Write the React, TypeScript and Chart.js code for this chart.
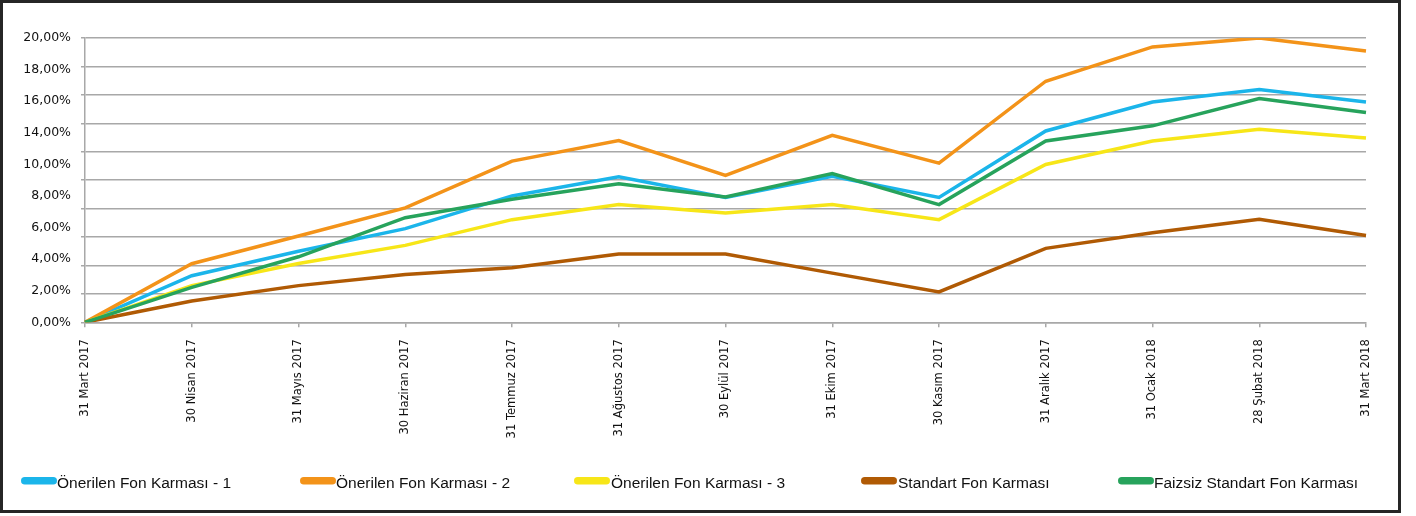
import React, { useEffect, useRef } from "react";
import { Chart, registerables } from "chart.js";

Chart.register(...registerables);

const categories = [
  "31 Mart 2017",
  "30 Nisan 2017",
  "31 Mayıs 2017",
  "30 Haziran 2017",
  "31 Temmuz 2017",
  "31 Ağustos 2017",
  "30 Eylül 2017",
  "31 Ekim 2017",
  "30 Kasım 2017",
  "31 Aralık 2017",
  "31 Ocak 2018",
  "28 Şubat 2018",
  "31 Mart 2018",
];

const seriesNames = [
  "Önerilen Fon Karması - 1",
  "Önerilen Fon Karması - 2",
  "Önerilen Fon Karması - 3",
  "Standart Fon Karması",
  "Faizsiz Standart Fon Karması",
];

const fon1 = [0, 3.28, 5.0, 6.59, 8.89, 10.24, 8.78, 10.28, 8.78, 13.46, 15.5, 16.37, 15.5];
const fon2 = [0, 4.12, 6.07, 8.05, 11.34, 12.78, 10.33, 13.15, 11.2, 16.96, 19.37, 20.0, 19.09];
const fon3 = [0, 2.58, 4.14, 5.41, 7.22, 8.28, 7.69, 8.28, 7.22, 11.1, 12.76, 13.58, 12.97];
const standart = [0, 1.5, 2.58, 3.36, 3.84, 4.8, 4.8, 3.46, 2.14, 5.2, 6.3, 7.24, 6.11];
const faizsiz = [0, 2.46, 4.61, 7.36, 8.66, 9.74, 8.82, 10.47, 8.28, 12.76, 13.82, 15.74, 14.76];

// Tick labels as printed on the original (note: the 12,00% label is absent)
const yTickLabels = [
  "0,00%",
  "2,00%",
  "4,00%",
  "6,00%",
  "8,00%",
  "10,00%",
  "14,00%",
  "16,00%",
  "18,00%",
  "20,00%",
];

const colors = ["#1bb5ea", "#f39319", "#f7e618", "#b05a04", "#27a35c"];

const W = 1395;
const H = 507;
const GRID = "#a8a8a8";
const TICK_FONT = "DejaVu Sans";
const LEGEND_FONT = "Liberation Sans";

const legendSwatchX = [18, 297, 571, 858, 1115];
const legendTextX = [54, 333, 608, 895, 1151];

const lineLegend = {
  id: "lineLegend",
  afterDraw(chart: any) {
    const ctx = chart.ctx as CanvasRenderingContext2D;
    ctx.save();
    chart.data.datasets.forEach((ds: any, i: number) => {
      ctx.fillStyle = ds.borderColor;
      ctx.beginPath();
      (ctx as any).roundRect(legendSwatchX[i], 474, 36, 7.5, 3.75);
      ctx.fill();
      ctx.fillStyle = "#111111";
      ctx.font = `15.5px "${LEGEND_FONT}"`;
      ctx.textBaseline = "alphabetic";
      ctx.textAlign = "left";
      ctx.fillText(ds.label, legendTextX[i], 485);
    });
    ctx.restore();
  },
};

export default function App() {
  const ref = useRef<HTMLCanvasElement | null>(null);

  useEffect(() => {
    if (!ref.current) return;
    const seriesData = [fon1, fon2, fon3, standart, faizsiz];
    const chart = new Chart(ref.current, {
      type: "line",
      data: {
        labels: categories,
        datasets: seriesData.map((d, i) => ({
          label: seriesNames[i],
          data: d,
          borderColor: colors[i],
          backgroundColor: colors[i],
          borderWidth: 3.5,
          pointRadius: 0,
          tension: 0,
          fill: false,
          order: 5 - i,
          yAxisID: "y",
        })),
      },
      options: {
        responsive: false,
        animation: false,
        layout: { padding: { top: 35, right: 32, bottom: 0, left: 0 } },
        plugins: {
          legend: { display: false },
          tooltip: { enabled: false },
        },
        scales: {
          x: {
            type: "category",
            offset: false,
            grid: {
              display: true,
              drawOnChartArea: false,
              drawTicks: true,
              tickLength: 5,
              color: GRID,
              lineWidth: 1.5,
            },
            border: { display: true, color: GRID, width: 1.5 },
            ticks: {
              autoSkip: false,
              maxRotation: 90,
              minRotation: 90,
              padding: 12,
              color: "#111111",
              font: { family: TICK_FONT, size: 11.5 },
            },
            afterFit: (s: any) => {
              s.height = 187.7;
            },
          },
          y: {
            type: "linear",
            position: "left",
            min: 0,
            max: 20,
            ticks: { stepSize: 2, display: false },
            grid: { color: GRID, lineWidth: 1.5, drawTicks: true, tickLength: 4 },
            border: { display: true, color: GRID, width: 1.5 },
            afterFit: (s: any) => {
              s.width = 5;
            },
          },
          yLabels: {
            type: "linear",
            position: "left",
            weight: 1,
            min: 0,
            max: 9,
            ticks: {
              stepSize: 1,
              padding: 9,
              color: "#111111",
              font: { family: TICK_FONT, size: 12.5 },
              callback: (v: any) => yTickLabels[Math.round(Number(v))] ?? "",
            },
            grid: { display: false, drawTicks: false },
            border: { display: false },
            afterFit: (s: any) => {
              s.width = 77;
            },
          },
        },
      } as any,
      plugins: [lineLegend],
    });
    return () => chart.destroy();
  }, []);

  return (
    <div
      style={{
        position: "absolute",
        left: 0,
        top: 0,
        width: 1401,
        height: 513,
        border: "3px solid #262626",
        boxSizing: "border-box",
        background: "#ffffff",
      }}
    >
      <canvas ref={ref} width={W} height={H} style={{ display: "block", width: W, height: H }} />
    </div>
  );
}
